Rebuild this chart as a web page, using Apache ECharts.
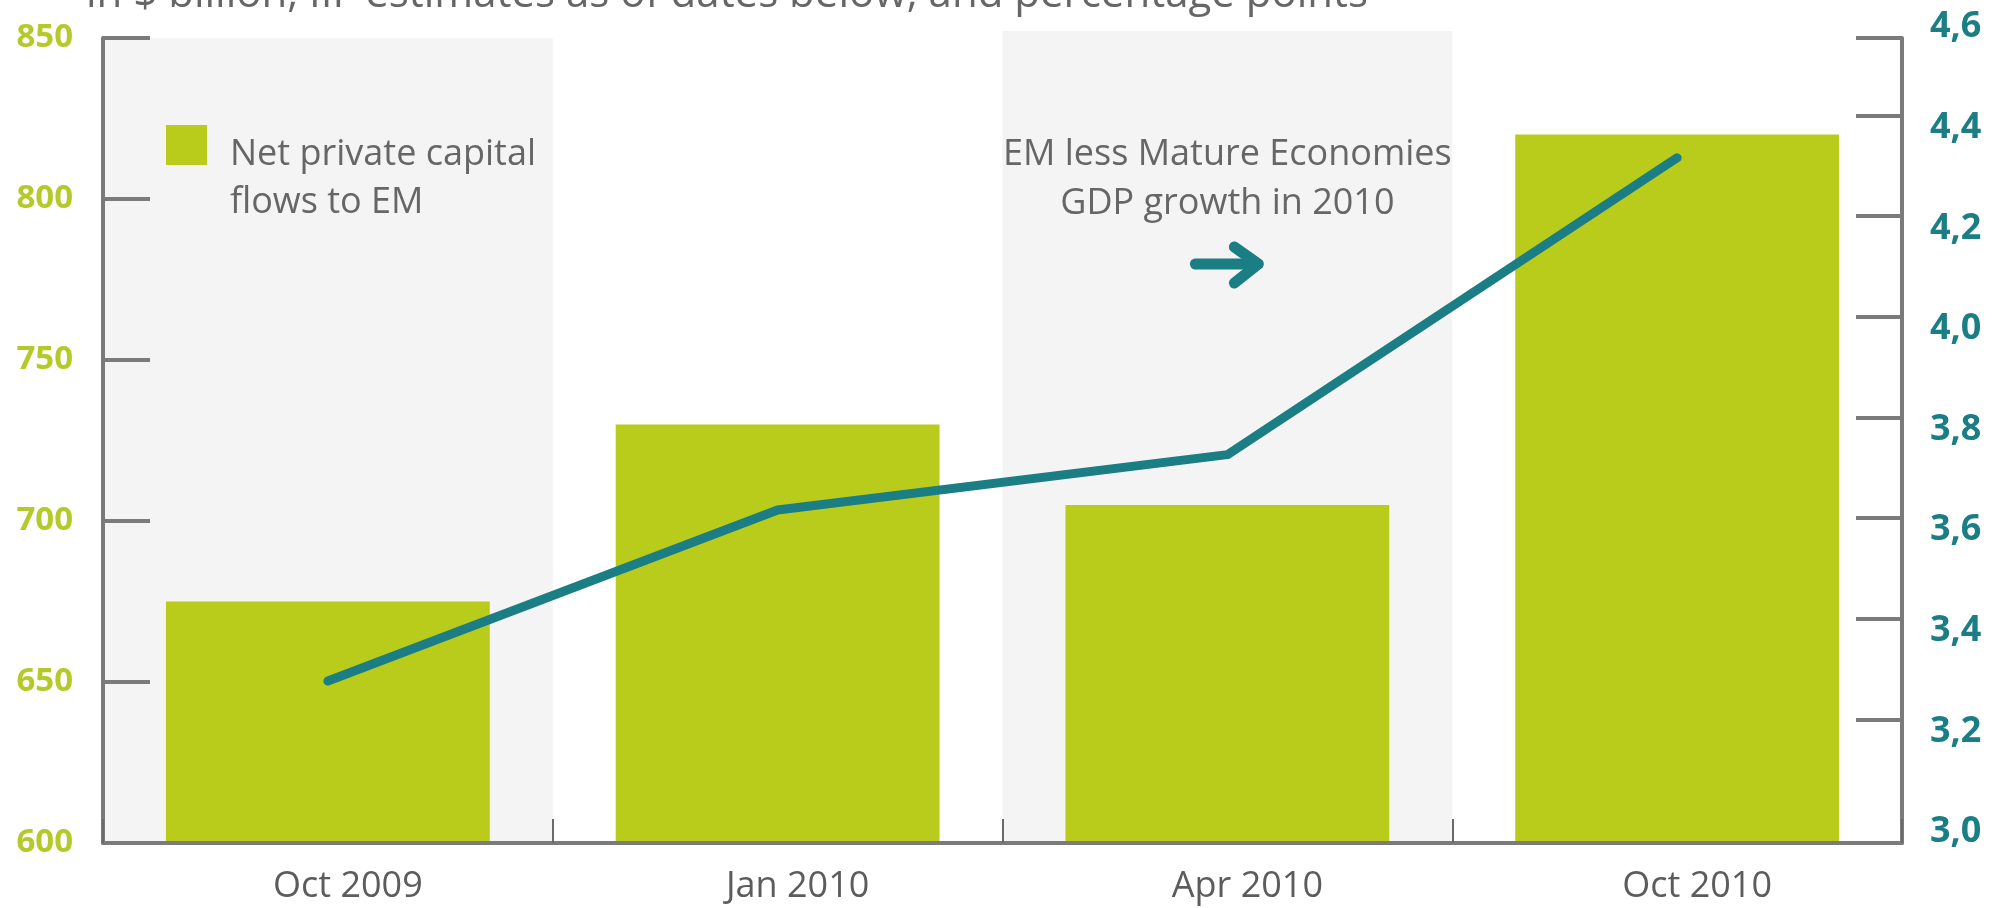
<!DOCTYPE html>
<html>
<head>
<meta charset="utf-8">
<script src="https://cdn.jsdelivr.net/npm/echarts@6/dist/echarts.min.js"></script>
<style>
html, body { margin: 0; padding: 0; background: #ffffff; }
#chart { width: 2004px; height: 908px; }
</style>
</head>
<body>
<div id="chart"></div>
<script>
// Survey dates
const categories = ['Oct 2009', 'Jan 2010', 'Apr 2010', 'Oct 2010'];
// Net private capital flows to EM, $ billion (left axis)
const capitalFlows = [675, 730, 705, 820];
// EM less mature economies GDP growth in 2010, percentage points (right axis)
const growthGap = [3.30, 3.64, 3.75, 4.34];
// Axis ranges and tick steps
const flowAxis = { min: 600, max: 850, step: 50 };
const growthAxis = { min: 3.0, max: 4.6, step: 0.2 };
// Dates drawn on a light grey band
const shadedDates = ['Oct 2009', 'Apr 2010'];

const titleText = 'in $ billion, IIF estimates as of dates below, and percentage points';
const legendLines = ['Net private capital', 'flows to EM'];
const noteLines = ['EM less Mature Economies', 'GDP growth in 2010'];

// ---- layout & style ----
const W = 2004, H = 908;
const FONT = '"Open Sans", "Noto Sans", sans-serif';
const LIME = '#b9cc1b';
const LIME_TEXT = '#b5ca2a';
const TEAL = '#1b7e85';
const GREY_TEXT = '#666666';
const AXIS_GREY = '#7b7b7b';
const BAND = '#f4f4f4';

const plotGrid = { left: 103, right: 102, top: 38, bottom: 65 };   // bar frame
const lineGrid = { left: 103, right: 102, top: 27, bottom: 76 };   // growth scale
const plotH = H - plotGrid.top - plotGrid.bottom;
const lineH = H - lineGrid.top - lineGrid.bottom;
const bandRaise = { 'Apr 2010': 7 };   // px the second band rises above the frame
const tickLift = 12;                   // right ticks sit above their labels

// right-hand tick scale expressed in growth units on the bar frame
const pxPerUnit = lineH / (growthAxis.max - growthAxis.min);
const labelBaseY = H - lineGrid.bottom;
const frameBaseY = H - plotGrid.bottom;
const tickMin = growthAxis.min - (frameBaseY - (labelBaseY - tickLift)) / pxPerUnit;
const tickMax = tickMin + plotH / pxPerUnit;
const innerTicks = [];
for (let v = growthAxis.min + growthAxis.step; v < growthAxis.max - growthAxis.step / 2; v += growthAxis.step) {
  innerTicks.push(+v.toFixed(2));
}
innerTicks.push(tickMax);

const chart = echarts.init(document.getElementById('chart'), null, { renderer: 'canvas' });

const option = {
  animation: false,
  backgroundColor: '#ffffff',
  grid: [
    Object.assign({ containLabel: false }, plotGrid),
    Object.assign({ containLabel: false }, lineGrid)
  ],
  xAxis: [
    {
      type: 'category', gridIndex: 0, data: categories, boundaryGap: true, z: 5,
      axisLine: { show: true, lineStyle: { color: AXIS_GREY, width: 4 } },
      axisTick: { show: true, inside: true, length: 24, lineStyle: { color: '#6a6a6a', width: 2 } },
      axisLabel: { fontFamily: FONT, fontSize: 36, color: '#5c5c5c', margin: 26, padding: [0, 0, 0, 40] },
      splitLine: { show: false }
    },
    { type: 'category', gridIndex: 0, data: categories, show: false },
    { type: 'category', gridIndex: 1, data: categories, show: false }
  ],
  yAxis: [
    {
      type: 'value', gridIndex: 0, position: 'left', z: 5,
      min: flowAxis.min, max: flowAxis.max, interval: flowAxis.step,
      axisLine: { show: true, lineStyle: { color: AXIS_GREY, width: 4 } },
      axisTick: { show: true, inside: true, length: 47, lineStyle: { color: AXIS_GREY, width: 4 } },
      axisLabel: { fontFamily: FONT, fontSize: 33, fontWeight: 'bold', color: LIME_TEXT, margin: 30, padding: [0, 0, 30, 0] },
      splitLine: { show: false }
    },
    {
      type: 'value', gridIndex: 0, position: 'right', z: 5,
      min: tickMin, max: tickMax,
      axisLine: { show: true, lineStyle: { color: AXIS_GREY, width: 4 } },
      axisTick: { show: true, inside: true, length: 46, lineStyle: { color: AXIS_GREY, width: 4 }, customValues: innerTicks },
      axisLabel: { show: false },
      splitLine: { show: false }
    },
    { type: 'value', gridIndex: 0, min: 0, max: 1, show: false },
    {
      type: 'value', gridIndex: 1, position: 'right',
      min: growthAxis.min, max: growthAxis.max, interval: growthAxis.step,
      axisLine: { show: false }, axisTick: { show: false },
      axisLabel: {
        fontFamily: FONT, fontSize: 36, fontWeight: 'bold', color: TEAL, margin: 28,
        formatter: v => v.toFixed(1).replace('.', ',')
      },
      splitLine: { show: false }
    }
  ],
  series: [
    {
      name: 'band', type: 'bar', xAxisIndex: 1, yAxisIndex: 2, silent: true, clip: false, z: 0,
      barWidth: '100%',
      itemStyle: { color: BAND },
      data: categories.map(c => shadedDates.includes(c) ? 1 + (bandRaise[c] || 0) / plotH : '-')
    },
    {
      name: 'Net private capital flows to EM', type: 'bar', xAxisIndex: 0, yAxisIndex: 0, z: 2,
      barWidth: '72%',
      itemStyle: { color: LIME },
      data: capitalFlows
    },
    {
      name: 'EM less Mature Economies GDP growth in 2010', type: 'line', xAxisIndex: 2, yAxisIndex: 3, z: 3,
      showSymbol: false, symbol: 'none',
      lineStyle: { color: TEAL, width: 9, cap: 'round', join: 'round' },
      data: growthGap
    }
  ]
};
chart.setOption(option);

// annotation anchored on the Apr 2010 column
const noteX = chart.convertToPixel({ xAxisIndex: 0 }, 'Apr 2010');
const textStyle = (text, x, y, align, size) => ({
  type: 'text', z: 10,
  style: { text, x, y, align, verticalAlign: 'middle', fontFamily: FONT, fontSize: size || 36, fill: GREY_TEXT }
});

chart.setOption({
  graphic: [
    textStyle(titleText, 86, -5, 'left', 42),
    { type: 'rect', z: 10, shape: { x: 166, y: 125, width: 41, height: 40 }, style: { fill: LIME } },
    textStyle(legendLines[0], 230, 155, 'left'),
    textStyle(legendLines[1], 230, 203, 'left'),
    textStyle(noteLines[0], noteX, 155, 'center'),
    textStyle(noteLines[1], noteX, 204, 'center'),
    {
      type: 'polyline', z: 10,
      shape: { points: [[noteX - 32, 264], [noteX + 28, 264]] },
      style: { stroke: TEAL, lineWidth: 11, lineCap: 'round', fill: null }
    },
    {
      type: 'polyline', z: 10,
      shape: { points: [[noteX + 7, 247], [noteX + 31, 264], [noteX + 7, 283]] },
      style: { stroke: TEAL, lineWidth: 11, lineCap: 'round', lineJoin: 'round', fill: null }
    }
  ]
});
</script>
</body>
</html>
